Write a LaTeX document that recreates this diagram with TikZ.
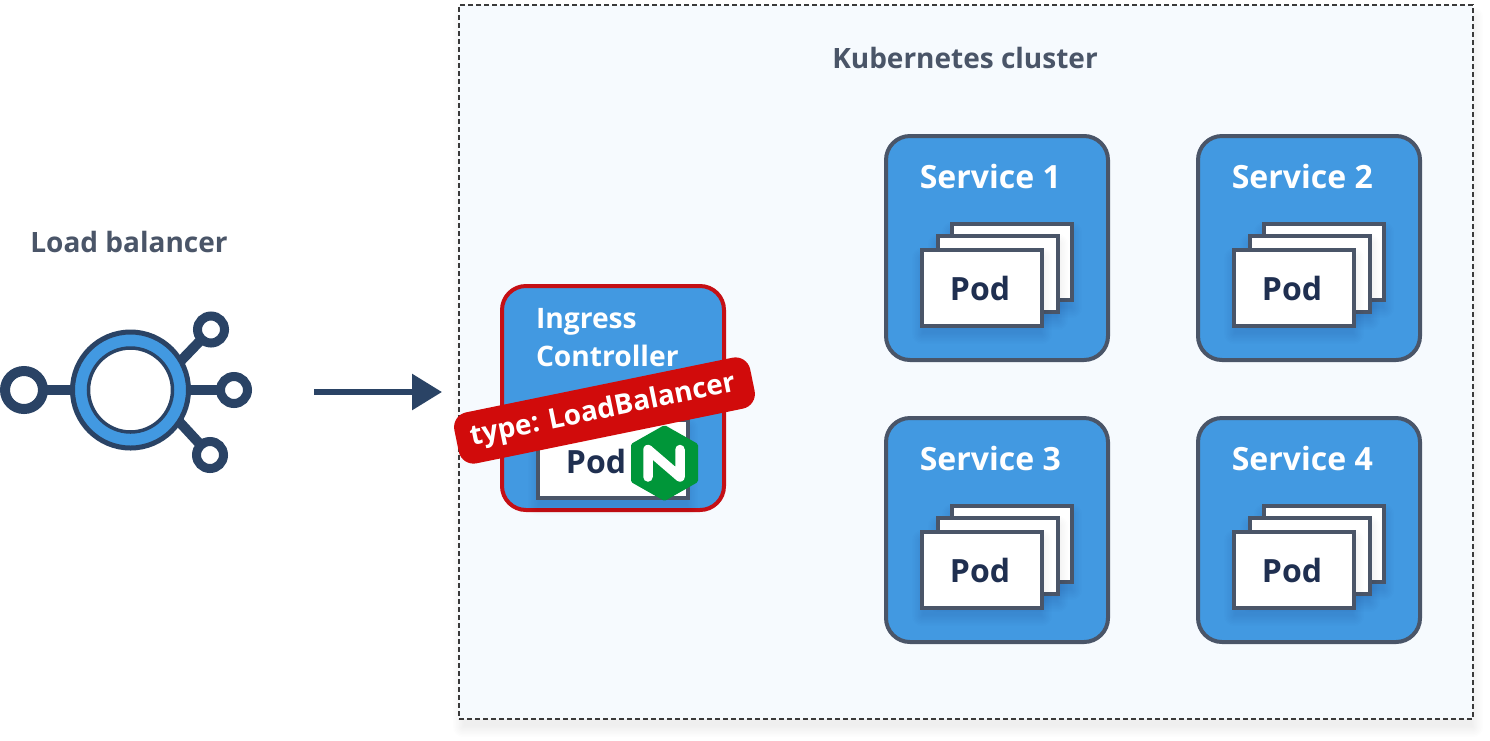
\documentclass[tikz,border=0pt]{standalone}
\usepackage{fontspec}
\setmainfont{Open Sans}
\usetikzlibrary{arrows.meta,calc}
\definecolor{clusterbg}{HTML}{F6FAFE}
\definecolor{slate}{HTML}{4A5568}
\definecolor{svcblue}{HTML}{4299E1}
\definecolor{navy}{HTML}{2A4365}
\definecolor{podtext}{HTML}{1F2F50}
\definecolor{ingred}{HTML}{C50F15}
\definecolor{bannerred}{HTML}{D10B0B}
\definecolor{ngxgreen}{HTML}{009639}
\definecolor{dashgrey}{HTML}{3A3A3A}
\tikzset{
  x=1pt,y=-1pt,
  softbox/.style={inner sep=0pt,outer sep=0pt,anchor=center},
  service/.style={softbox,draw=slate,line width=4pt,fill=svcblue,rounded corners=24pt,minimum width=222pt,minimum height=224pt},
  ingress/.style={softbox,draw=ingred,line width=4pt,fill=svcblue,rounded corners=24pt,minimum width=222pt,minimum height=224pt},
  podcard/.style={softbox,draw=slate,line width=4pt,fill=white,minimum width=120pt,minimum height=76pt},
  svclabel/.style={softbox,text=white,font=\fontsize{32}{38}\selectfont\bfseries},
  podlabel/.style={softbox,text=podtext,font=\fontsize{32}{38}\selectfont\bfseries},
  headlabel/.style={softbox,text=slate,font=\fontsize{28}{33}\selectfont\bfseries},
  ringsmall/.style={circle,inner sep=0pt,outer sep=0pt,draw=navy,fill=white,line width=9pt,minimum size=27pt},
  ringbig/.style={circle,inner sep=0pt,outer sep=0pt,draw=navy,fill=white,line width=10pt,minimum size=38pt},
  spoke/.style={draw=navy,line width=10pt},
}
% soft shadow: stacked translucent boxes  {cx}{cy}{w}{h}{dy}{radius}
\newcommand{\softshadow}[6]{%
  \foreach \i in {0,...,7}{%
    \pgfmathsetmacro{\ex}{8-1.5*\i}
    \fill[black,opacity=0.006,rounded corners={#6+\ex+2}]
      ({#1-(#3)/2-\ex},{#2+#5-(#4)/2-\ex}) rectangle ({#1+(#3)/2+\ex},{#2+#5+(#4)/2+\ex});
  }%
}
% service block {name}{cx offset}{cy offset}{label}
\newcommand{\serviceblock}[4]{%
  \begin{scope}[shift={(#2,#3)}]
    \node[service] (#1) at (997,248) {};
    \node[svclabel] (#1label) at (990.3,176.2) {#4};
    \softshadow{1012}{262}{124}{80}{8}{0}
    \node[podcard] (#1podc) at (1012,262) {};
    \softshadow{998}{274}{124}{80}{8}{0}
    \node[podcard] (#1podb) at (998,274) {};
    \softshadow{982}{288}{124}{80}{8}{0}
    \node[podcard] (#1poda) at (982,288) {};
    \node[podlabel] (#1podtext) at (980,288) {Pod};
  \end{scope}
}
\begin{document}
\begin{tikzpicture}
\useasboundingbox (0,0) rectangle (1490,740);
\fill[white] (0,0) rectangle (1490,740);

% cluster
\softshadow{968}{362}{1014}{714}{10}{0}
\node[softbox,fill=clusterbg,draw=dashgrey,line width=2pt,dash pattern=on 5pt off 3pt,minimum width=1014pt,minimum height=714pt] (cluster) at (966,362) {};
\node[headlabel] (clusterlabel) at (965,58) {Kubernetes cluster};

% services
\serviceblock{svca}{0}{0}{Service 1}
\serviceblock{svcb}{312}{0}{Service 2}
\serviceblock{svcc}{0}{282}{Service 3}
\serviceblock{svcd}{312}{282}{Service 4}

% ingress controller
\node[ingress] (ingress) at (613,398) {};
\node[svclabel,font=\fontsize{28.2}{38}\selectfont\bfseries,align=left,anchor=north west] (ingresslabel) at (536,308) {Ingress\\Controller};
\softshadow{613}{459}{154}{82}{8}{0}
\node[podcard,minimum width=150pt,minimum height=78pt] (ingresspod) at (613,459) {};
\node[podlabel] (ingresspodtext) at (596,461) {Pod};

% nginx hexagon
\fill[ngxgreen,rounded corners=1.5pt] (664.5,425) -- (698,444) -- (698,482) -- (664.5,501) -- (631,482) -- (631,444) -- cycle;
\draw[white,line width=9.5pt,line cap=round,line join=round] (648,477) -- (648,449.5) -- (680,477) -- (680,449.5);

% banner
\node[softbox,fill=bannerred,rounded corners=15pt,minimum width=302pt,minimum height=52pt,rotate=11.6] (bannerbox) at (604.5,410.5) {};
\node[softbox,text=white,font=\fontsize{27.9}{33}\selectfont\bfseries,rotate=11.6] (banner) at (603,411) {type: LoadBalancer};

% load balancer
\node[softbox,text=slate,font=\fontsize{28}{33}\selectfont\bfseries] (lblabel) at (129,242) {Load balancer};
\node[ringbig] (lbleft) at (24,390) {};
\node[ringsmall] (lbtop) at (211,329.5) {};
\node[ringsmall] (lbright) at (234,390) {};
\node[ringsmall] (lbbottom) at (210,455) {};
\node[circle,inner sep=0pt,outer sep=0pt,minimum size=116pt,draw=navy,line width=5pt,fill=svcblue] (hub) at (130.5,390) {};
\draw[spoke] (lbleft) -- (hub);
\draw[spoke] (hub.30) -- (lbtop);
\draw[spoke] (hub) -- (lbright);
\draw[spoke] (hub.-33) -- (lbbottom);
\node[circle,inner sep=0pt,outer sep=0pt,minimum size=84pt,draw=navy,line width=3.5pt,fill=white] (hubcore) at (130.5,390) {};

% arrow
\coordinate (arrowstart) at (314,392);
\coordinate (arrowend) at (442,392);
\draw[navy,line width=6pt,-{Triangle[length=30pt,width=35pt]}] (arrowstart) -- (arrowend);
\end{tikzpicture}
\end{document}
